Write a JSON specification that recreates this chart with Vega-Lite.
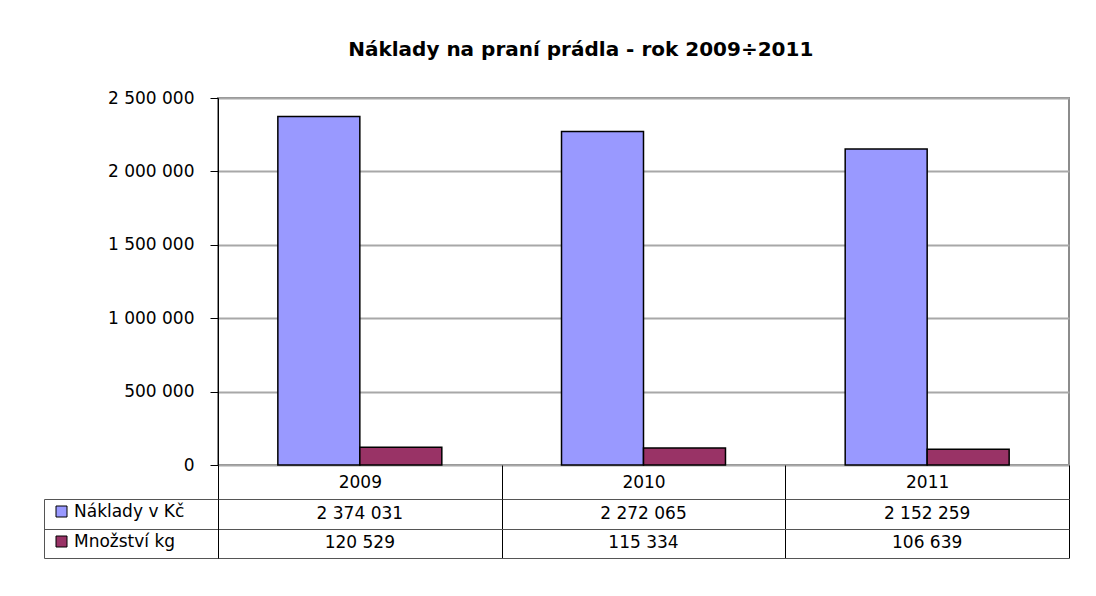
{
  "$schema": "https://vega.github.io/schema/vega-lite/v6.json",
  "datasets": {
    "d": [
      {"year": "2009", "series": "Náklady v Kč", "value": 2374031},
      {"year": "2009", "series": "Množství kg", "value": 120529},
      {"year": "2010", "series": "Náklady v Kč", "value": 2272065},
      {"year": "2010", "series": "Množství kg", "value": 115334},
      {"year": "2011", "series": "Náklady v Kč", "value": 2152259},
      {"year": "2011", "series": "Množství kg", "value": 106639}
    ]
  },
  "title": {
    "text": "Náklady na praní prádla - rok 2009÷2011",
    "font": "DejaVu Sans",
    "fontSize": 20,
    "fontWeight": "bold",
    "color": "black",
    "anchor": "middle",
    "dx": 24,
    "offset": 28
  },
  "padding": {"left": 43, "top": 40, "right": 5, "bottom": 5},
  "bounds": "flush",
  "spacing": 34,
  "vconcat": [
    {
      "width": 851,
      "height": 367,
      "view": {"stroke": "#8c8c8c", "strokeWidth": 2},
      "data": {"name": "d"},
      "mark": {"type": "bar", "stroke": "black", "strokeWidth": 1.5},
      "encoding": {
        "x": {"field": "year", "type": "nominal", "scale": {"paddingInner": 0, "paddingOuter": 0}, "axis": null},
        "xOffset": {"field": "series", "type": "nominal", "sort": ["Náklady v Kč", "Množství kg"], "scale": {"paddingInner": 0, "paddingOuter": 0.73}},
        "y": {
          "field": "value", "type": "quantitative",
          "scale": {"domain": [0, 2500000], "nice": false},
          "axis": {
            "values": [0, 500000, 1000000, 1500000, 2000000, 2500000],
            "title": null, "format": ",d",
            "labelFont": "DejaVu Sans", "labelFontSize": 17, "labelColor": "black",
            "labelPadding": 16, "tickSize": 8, "tickColor": "black", "domainColor": "black",
            "gridColor": "#a8a8a8", "gridWidth": 2
          }
        },
        "color": {
          "field": "series", "type": "nominal",
          "scale": {"domain": ["Náklady v Kč", "Množství kg"], "range": ["#9999FF", "#993366"]},
          "legend": {
            "title": null, "orient": "none", "legendX": -165, "legendY": 405,
            "symbolType": "square", "symbolSize": 121, "symbolStrokeColor": "black",
            "symbolStrokeWidth": 1, "symbolOpacity": 1,
            "labelFont": "DejaVu Sans", "labelFontSize": 17, "labelColor": "black",
            "labelOffset": 4, "rowPadding": 12, "padding": 0
          }
        }
      }
    },
    {
      "width": 851,
      "height": 59,
      "data": {"name": "d"},
      "encoding": {
        "x": {
          "field": "year", "type": "nominal",
          "scale": {"type": "band", "paddingInner": 0, "paddingOuter": 0},
          "axis": {
            "orient": "top", "title": null, "tickBand": "extent", "tickSize": 34,
            "tickColor": "black", "grid": true, "gridColor": "black", "domain": false,
            "labelAngle": 0, "labelBaseline": "middle", "labelPadding": -17,
            "labelFont": "DejaVu Sans", "labelFontSize": 17, "labelColor": "black"
          }
        }
      },
      "layer": [
        {
          "mark": {"type": "text", "font": "DejaVu Sans", "fontSize": 17, "color": "black"},
          "encoding": {
            "text": {"field": "value", "type": "quantitative", "format": ",d"},
            "y": {
              "field": "series", "type": "nominal", "sort": ["Náklady v Kč", "Množství kg"],
              "scale": {"type": "band", "paddingInner": 0, "paddingOuter": 0},
              "axis": {
                "orient": "left", "title": null, "tickBand": "extent", "tickSize": 174,
                "tickColor": "#555555", "labels": false, "grid": true, "gridColor": "#555555",
                "domainColor": "black"
              }
            }
          }
        },
        {
          "mark": {"type": "text", "opacity": 0},
          "encoding": {
            "text": {"field": "value", "type": "quantitative", "format": ",d"},
            "y": {
              "field": "series", "type": "nominal", "sort": ["Náklady v Kč", "Množství kg"],
              "scale": {"type": "band", "paddingInner": 0, "paddingOuter": 0},
              "axis": {
                "orient": "left", "title": null, "offset": 174, "ticks": false,
                "labels": false, "grid": false, "domain": true, "domainColor": "#555555"
              }
            }
          }
        }
      ],
      "resolve": {"axis": {"y": "independent"}}
    }
  ],
  "config": {
    "locale": {"number": {"decimal": ",", "thousands": " ", "grouping": [3], "currency": ["", " Kč"]}},
    "view": {"stroke": null},
    "font": "DejaVu Sans"
  }
}
